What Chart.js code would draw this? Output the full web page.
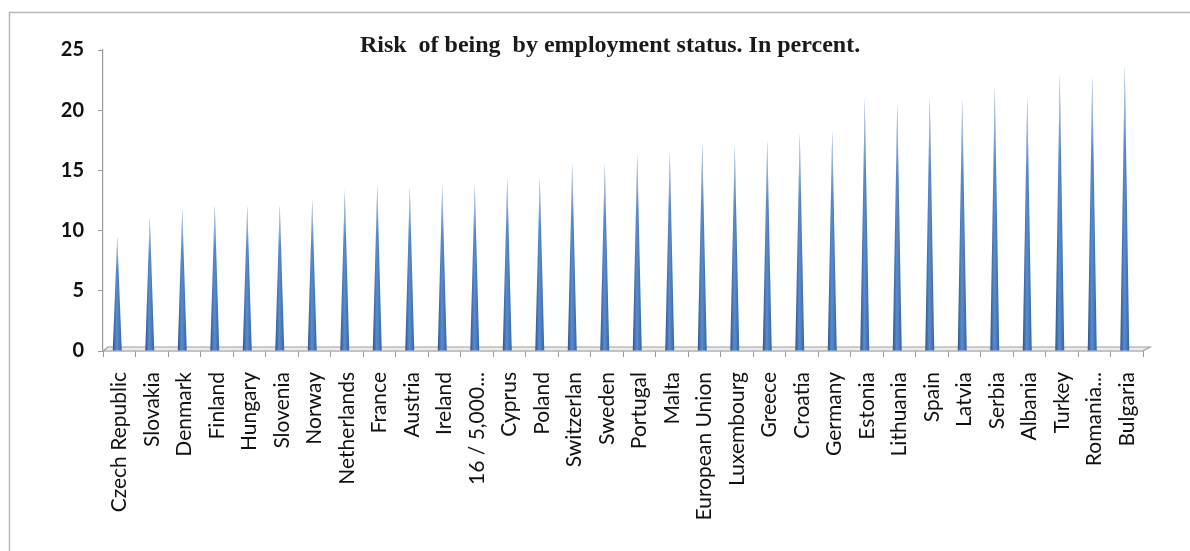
<!DOCTYPE html>
<html>
<head>
<meta charset="utf-8">
<script src="https://cdn.jsdelivr.net/npm/chart.js@4/dist/chart.umd.min.js"></script>
<style>
  html, body { margin: 0; padding: 0; background: #fff; }
  #wrap { width: 1190px; height: 551px; position: relative; }
</style>
</head>
<body>
<div id="wrap"><canvas id="spikeChart"></canvas></div>
<script>
const countries = [
  "Czech Republic", "Slovakia", "Denmark", "Finland", "Hungary", "Slovenia",
  "Norway", "Netherlands", "France", "Austria", "Ireland", "16 / 5,000...",
  "Cyprus", "Poland", "Switzerlan", "Sweden", "Portugal", "Malta",
  "European Union", "Luxembourg", "Greece", "Croatia", "Germany", "Estonia",
  "Lithuania", "Spain", "Latvia", "Serbia", "Albania", "Turkey",
  "Romania...", "Bulgaria"
];
const riskValues = [
  9.5, 11.2, 11.8, 12.2, 12.1, 12.2,
  12.6, 13.4, 13.8, 13.6, 13.8, 13.9,
  14.4, 14.5, 15.6, 15.6, 16.4, 16.6,
  17.3, 17.1, 17.5, 18.1, 18.3, 21.0,
  20.6, 21.2, 21.0, 22.0, 21.2, 23.0,
  22.9, 23.8
];
const yTicks = [0, 5, 10, 15, 20, 25];
const titleText = "Risk  of being  by employment status. In percent.";

// frame, 3D floor, spikes and title
const decor = {
  id: "decor",
  beforeDraw(chart) {
    const c = chart.ctx;
    c.save();
    c.fillStyle = "#fff";
    c.fillRect(0, 0, chart.width, chart.height);
    c.strokeStyle = "#b8b8b8";
    c.lineWidth = 1.5;
    c.beginPath();
    c.moveTo(9.5, chart.height + 5);
    c.lineTo(9.5, 12.5);
    c.lineTo(chart.width + 5, 12.5);
    c.stroke();
    c.restore();
  },
  beforeDatasetsDraw(chart) {
    const c = chart.ctx;
    const a = chart.chartArea;
    c.save();
    c.fillStyle = "#ececec";
    c.beginPath();
    c.moveTo(a.left, a.bottom);
    c.lineTo(a.left + 5, a.bottom - 4);
    c.lineTo(a.right + 7, a.bottom - 4);
    c.lineTo(a.right, a.bottom);
    c.closePath();
    c.fill();
    c.strokeStyle = "#a0a0a0";
    c.lineWidth = 1.2;
    c.stroke();
    c.restore();
  },
  afterDatasetsDraw(chart) {
    const c = chart.ctx;
    const meta = chart.getDatasetMeta(0);
    c.save();
    meta.data.forEach((bar) => {
      const x = bar.x - 2;
      const half = 4.5;
      const top = bar.y;
      const base = bar.base;
      const g = c.createLinearGradient(x - half, 0, x + half, 0);
      g.addColorStop(0, "#2a5590");
      g.addColorStop(0.45, "#5a8dd0");
      g.addColorStop(1, "#3564a4");
      c.fillStyle = g;
      c.beginPath();
      c.moveTo(x - half, base);
      c.lineTo(x, top);
      c.lineTo(x + half, base);
      c.closePath();
      c.fill();
      const f = c.createLinearGradient(0, top, 0, top + (base - top) * 0.3);
      f.addColorStop(0, "rgba(225,228,232,0.85)");
      f.addColorStop(1, "rgba(225,228,232,0)");
      c.fillStyle = f;
      c.fill();
    });
    c.restore();
  },
  afterDraw(chart) {
    const c = chart.ctx;
    c.save();
    c.font = "bold 24px 'Liberation Serif', serif";
    c.fillStyle = "#1a1a1a";
    c.textAlign = "center";
    c.textBaseline = "alphabetic";
    c.fillText(titleText, 610, 52);
    c.restore();
  }
};

const ctx = document.getElementById("spikeChart").getContext("2d");
new Chart(ctx, {
  type: "bar",
  data: {
    labels: countries,
    datasets: [
      {
        label: "Risk",
        data: riskValues,
        backgroundColor: "rgba(0,0,0,0)",
        borderWidth: 0,
      },
    ],
  },
  options: {
    responsive: true,
    maintainAspectRatio: false,
    animation: false,
    layout: { padding: { top: 50, right: 47, bottom: 0, left: 0 } },
    plugins: {
      legend: { display: false },
      tooltip: { enabled: false },
      title: { display: false },
    },
    scales: {
      x: {
        offset: true,
        afterFit: (scale) => { scale.height = 200; },
        grid: {
          drawOnChartArea: false,
          color: "#9a9a9a",
          tickLength: 6,
          offset: true,
        },
        border: { color: "#9a9a9a", width: 1.2 },
        ticks: {
          minRotation: 90,
          maxRotation: 90,
          autoSkip: false,
          padding: 15,
          color: "#111",
          font: { family: "Lato", size: 21 },
        },
      },
      y: {
        min: 0,
        max: 25,
        afterFit: (scale) => { scale.width = 103; },
        afterBuildTicks: (scale) => {
          scale.ticks = yTicks.map((v) => ({ value: v }));
        },
        grid: {
          drawOnChartArea: false,
          color: "#9a9a9a",
          tickLength: 5,
        },
        border: { color: "#9a9a9a", width: 1.2 },
        ticks: {
          padding: 14,
          color: "#111",
          font: { family: "Lato", size: 20, weight: "bold" },
        },
      },
    },
  },
  plugins: [decor],
});
</script>
</body>
</html>
